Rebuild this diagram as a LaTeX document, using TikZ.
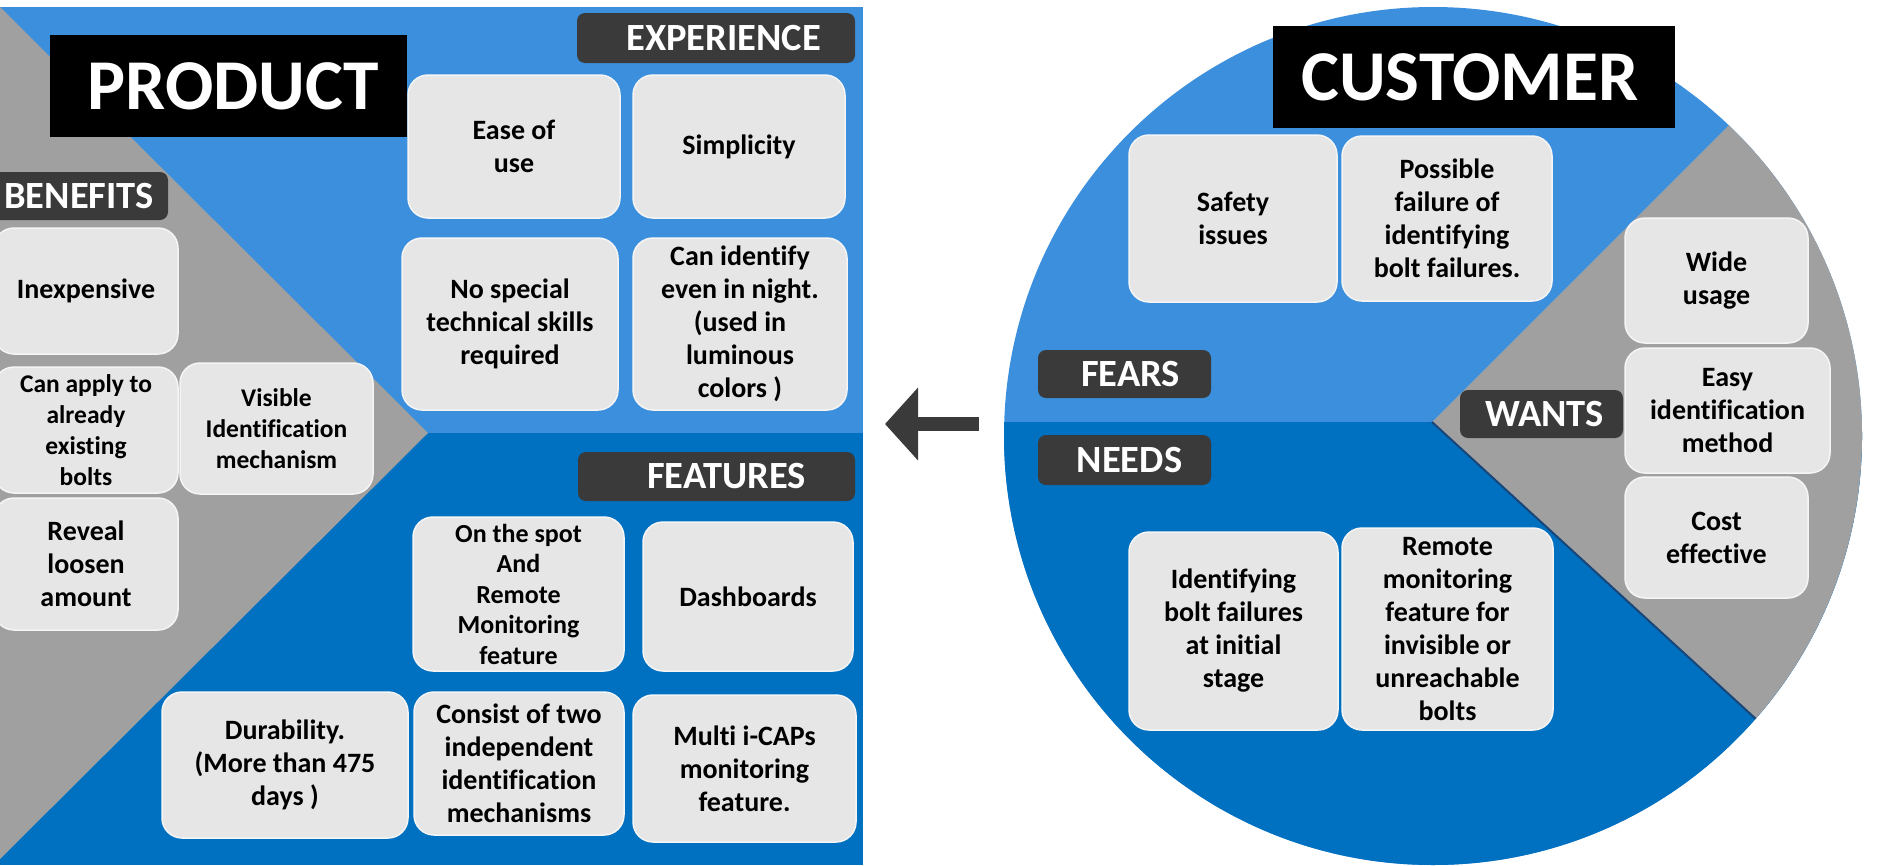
\documentclass[tikz,border=0pt]{standalone}
\usepackage{fontspec}
\setmainfont{Carlito}[Ligatures={NoCommon}]
\usetikzlibrary{arrows.meta}
\definecolor{lblue}{RGB}{59,143,221}
\definecolor{dblue}{RGB}{0,112,192}
\definecolor{pgray}{RGB}{160,160,160}
\definecolor{lab}{RGB}{58,58,58}
\definecolor{boxc}{RGB}{231,230,230}
\definecolor{boxedge}{RGB}{245,245,245}
\definecolor{edgeblue}{RGB}{25,70,120}
\begin{document}
\begin{tikzpicture}[x=1pt,y=-1pt,
  box/.style={fill=boxc, draw=boxedge, line width=1.5pt, rounded corners=20pt, align=center, inner sep=0pt, font=\fontsize{28}{33}\selectfont\bfseries, text=black},
  small/.style={font=\fontsize{25.5}{31}\selectfont\bfseries},
  tag/.style={fill=lab, rounded corners=8pt, inner sep=0pt, text=white, font=\fontsize{38.5}{40}\selectfont\bfseries},
  title/.style={fill=black, inner sep=0pt, text=white, font=\fontsize{71.5}{72}\selectfont\bfseries},
]
\useasboundingbox (0,0) rectangle (1878,865);
\fill[white] (0,0) rectangle (1878,865);
% left panel
\fill[lblue] (0,7) rectangle (863,433);
\fill[dblue] (0,433) rectangle (863,865);
\fill[pgray] (0,7) -- (428,433) -- (0,859) -- cycle;
% customer circle
\fill[lblue] (1433,436) circle[radius=429pt];
\begin{scope}
\clip (1433,436) circle[radius=429pt];
\fill[dblue] (990,422) rectangle (1880,880);
\fill[pgray] (1432,422) -- (1932,-78) -- (2082,1018) -- cycle;
\draw[line width=2pt, edgeblue] (1432,422) -- (2082,1018);
\end{scope}
% arrow
\coordinate (as) at (979,424);
\coordinate (ae) at (885,424);
\draw[lab, line width=14pt, -{Triangle[width=71pt,length=33pt]}] (as) -- (ae);
% product side
\node[title, minimum width=357pt, minimum height=102pt] (prod) at (228.5,86) {\hspace*{10pt}PRODUCT};
\node[tag, minimum width=178pt, minimum height=48pt] (bene) at (79,196) {BENEFITS};
\node[tag, minimum width=278pt, minimum height=50pt] (expe) at (716,38) {\hspace*{15pt}EXPERIENCE};
\node[tag, minimum width=277pt, minimum height=49pt] (feat) at (716.5,476.5) {\hspace*{20pt}FEATURES};
\node[box, minimum width=184pt, minimum height=126pt] (b1) at (86,291) {Inexpensive};
\node[box, small, minimum width=184pt, minimum height=126pt] (b2) at (86,430) {Can apply to\\already\\existing\\bolts};
\node[box, small, minimum width=193pt, minimum height=131pt] (b3) at (276.5,428.5) {Visible\\Identification\\mechanism};
\node[box, minimum width=184pt, minimum height=132pt] (b4) at (86,564) {Reveal\\loosen\\amount};
\node[box, minimum width=212pt, minimum height=143pt] (e1) at (514,146.5) {Ease of\\use};
\node[box, minimum width=212pt, minimum height=143pt] (e2) at (739,146.5) {Simplicity};
\node[box, minimum width=216pt, minimum height=172pt] (e3) at (510,324) {No special\\technical skills\\required};
\node[box, minimum width=214pt, minimum height=172pt] (e4) at (740,324) {Can identify\\even in night.\\(used in\\luminous\\colors )};
\node[box, font=\fontsize{26}{30.5}\selectfont\bfseries, minimum width=211pt, minimum height=154pt] (f1) at (518.5,594) {On the spot\\And\\Remote\\Monitoring\\feature};
\node[box, minimum width=210pt, minimum height=149pt] (f2) at (748,596.5) {Dashboards};
\node[box, minimum width=210pt, minimum height=143pt] (f3) at (519,763.5) {Consist of two\\independent\\identification\\mechanisms};
\node[box, minimum width=223pt, minimum height=147pt] (f4) at (744.5,768.5) {Multi i-CAPs\\monitoring\\feature.};
\node[box, minimum width=246pt, minimum height=146pt] (f5) at (285,765) {Durability.\\(More than 475\\days )};
% customer side
\node[title, minimum width=402pt, minimum height=102pt] (cust) at (1474,77) {CUSTOMER\hspace*{8pt}};
\node[tag, minimum width=173pt, minimum height=48pt] (fears) at (1124.5,374) {\hspace*{12pt}FEARS};
\node[tag, minimum width=173pt, minimum height=50pt] (needs) at (1124.5,460) {\hspace*{10pt}NEEDS};
\node[tag, minimum width=163pt, minimum height=48pt] (wants) at (1541.5,414) {\hspace*{6pt}WANTS};
\node[box, minimum width=208pt, minimum height=167pt] (c1) at (1233,218.5) {Safety\\issues};
\node[box, minimum width=210pt, minimum height=165pt] (c2) at (1447,218.5) {Possible\\failure of\\identifying\\bolt failures.};
\node[box, minimum width=183pt, minimum height=125pt] (w1) at (1716.5,280.5) {Wide\\usage};
\node[box, minimum width=205pt, minimum height=125pt] (w2) at (1727.5,410.5) {Easy\\identification\\method};
\node[box, minimum width=183pt, minimum height=121pt] (w3) at (1716.5,537.5) {Cost\\effective};
\node[box, minimum width=209pt, minimum height=198pt] (n1) at (1233.5,631) {Identifying\\bolt failures\\at initial\\stage};
\node[box, minimum width=211pt, minimum height=202pt] (n2) at (1447.5,629) {Remote\\monitoring\\feature for\\invisible or\\unreachable\\bolts};
\end{tikzpicture}
\end{document}
